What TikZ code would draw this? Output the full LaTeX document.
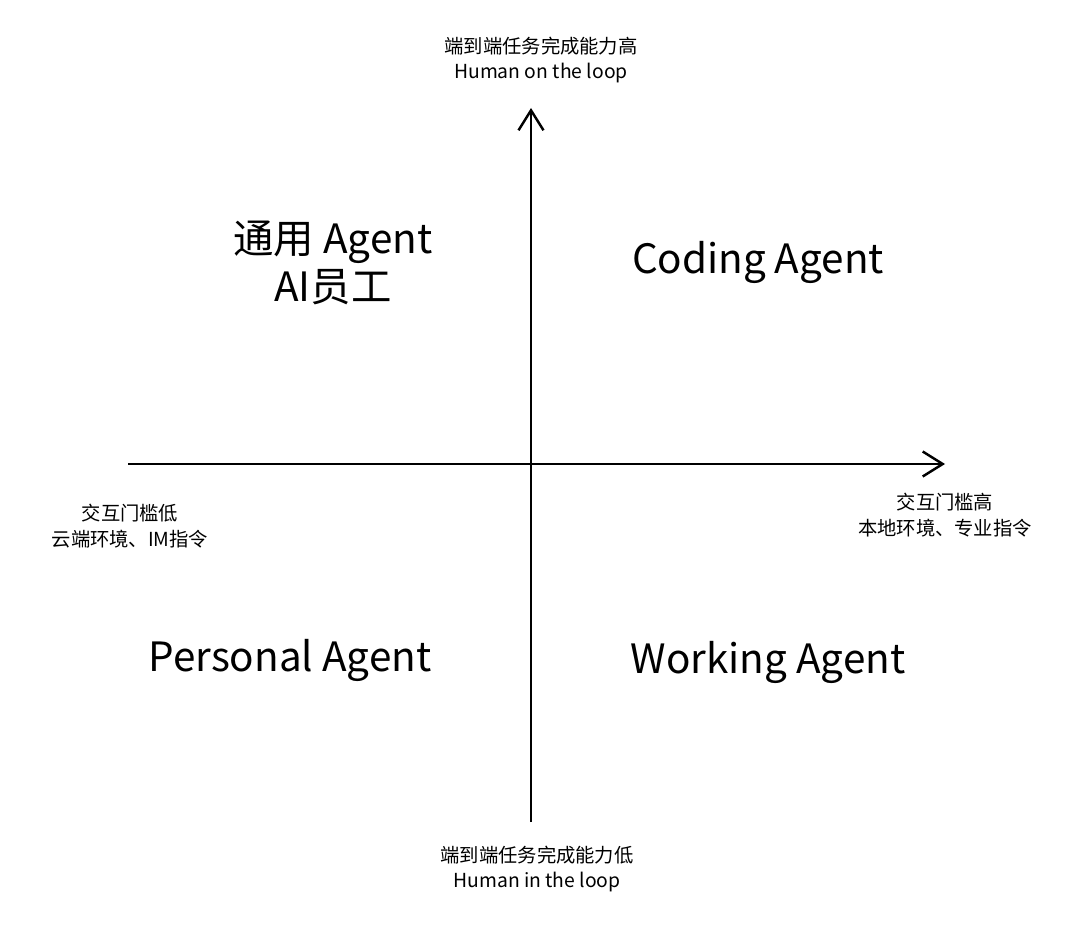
\documentclass[tikz,border=0pt]{standalone}
\usepackage{fontspec}
\setmainfont{Noto Sans CJK SC}
\usetikzlibrary{arrows.meta}
\begin{document}
\begin{tikzpicture}[x=0.02cm, y=-0.02cm,
            axis/.style={line width=1.4pt, -{Straight Barb[length=4mm, width=5mm, line width=1.4pt]}},
            note/.style={align=center, font=\fontsize{11}{14.5}\selectfont, inner sep=0pt},
            quad/.style={align=center, font=\fontsize{23}{27}\selectfont, inner sep=0pt}]
            \useasboundingbox (0,0) rectangle (1080,939);

            % 坐标轴
            \coordinate (ybot) at (531,822);
            \coordinate (ytop) at (531,108);
            \coordinate (xleft) at (128,464);
            \coordinate (xright) at (945,464);
            \draw[axis] (ybot) -- (ytop);
            \draw[axis] (xleft) -- (xright);

            % 轴标签
            \node[note] (top) at (541,60) {端到端任务完成能力高\\Human on the loop};
            \node[note] (bot) at (537,869) {端到端任务完成能力低\\Human in the loop};
            \node[note] (right) at (945,515) {交互门槛高\\本地环境、专业指令};
            \node[note] (left) at (130,526) {交互门槛低\\云端环境、IM指令};

            % 象限
            \node[quad] (general) at (333,263) {通用 Agent\\AI员工};
            \node[quad] (coding) at (758,262) {Coding Agent};
            \node[quad] (personal) at (290,660) {Personal Agent};
            \node[quad] (working) at (768,662) {Working Agent};
        \end{tikzpicture}
\end{document}
